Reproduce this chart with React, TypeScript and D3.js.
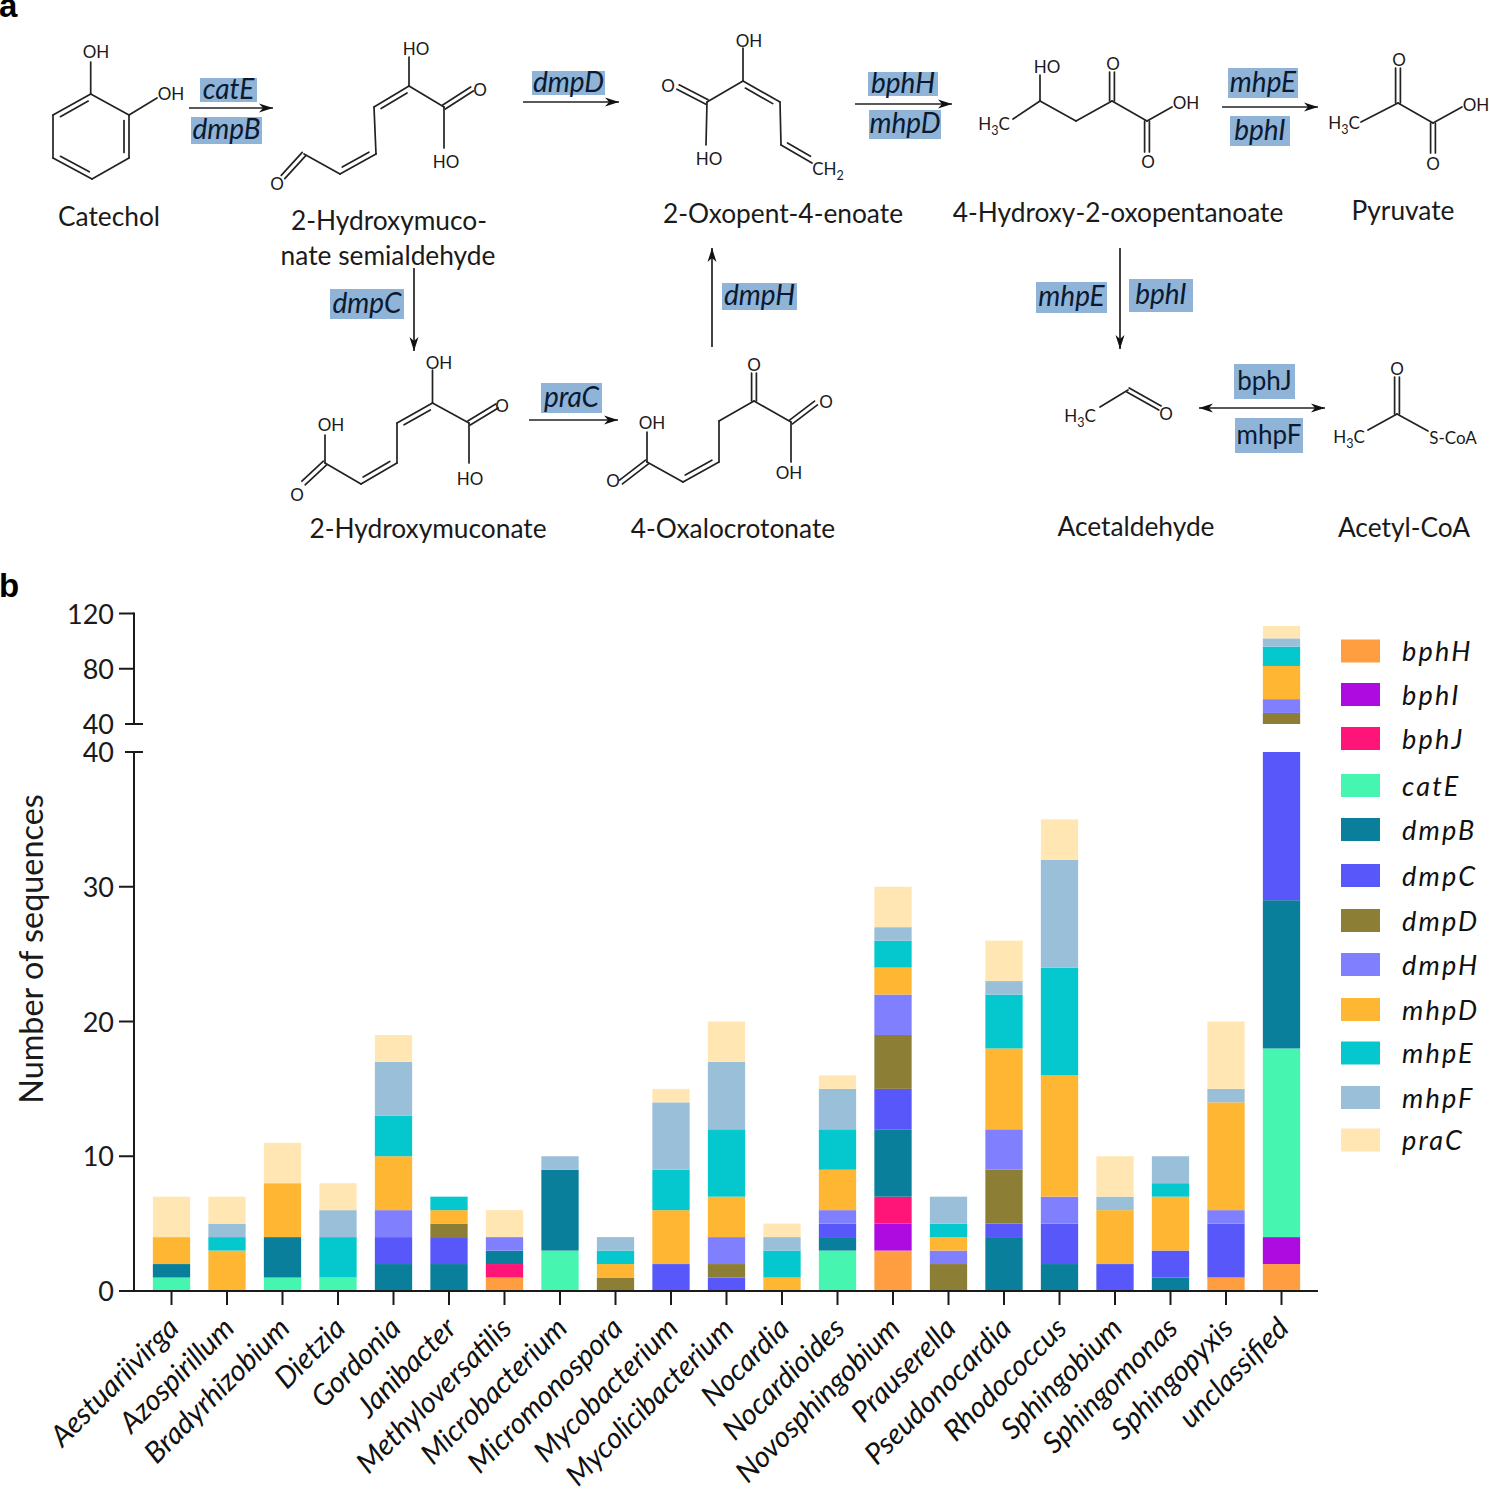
import React from "react";
import * as d3 from "d3";

// ---------- chart data ----------
const genera = ["Aestuariivirga","Azospirillum","Bradyrhizobium","Dietzia","Gordonia","Janibacter","Methyloversatilis","Microbacterium","Micromonospora","Mycobacterium","Mycolicibacterium","Nocardia","Nocardioides","Novosphingobium","Prauserella","Pseudonocardia","Rhodococcus","Sphingobium","Sphingomonas","Sphingopyxis","unclassified"];
const genes = ["bphH","bphI","bphJ","catE","dmpB","dmpC","dmpD","dmpH","mhpD","mhpE","mhpF","praC"];
const geneColors = ["#FF9E40","#AD0BE0","#FF1478","#45F5B0","#0A7F9C","#5858FA","#8C7E35","#8080FF","#FFB733","#05C8CF","#9ABFD9","#FFE6B3"];
const bphH = [0,0,0,0,0,0,1,0,0,0,0,0,0,3,0,0,0,0,0,1,2];
const bphI = [0,0,0,0,0,0,0,0,0,0,0,0,0,2,0,0,0,0,0,0,2];
const bphJ = [0,0,0,0,0,0,1,0,0,0,0,0,0,2,0,0,0,0,0,0,0];
const catE = [1,0,1,1,0,0,0,3,0,0,0,0,3,0,0,0,0,0,0,0,14];
const dmpB = [1,0,3,0,2,2,1,6,0,0,0,0,1,5,0,4,2,0,1,0,11];
const dmpC = [0,0,0,0,2,2,0,0,0,2,1,0,1,3,0,1,3,2,2,4,11];
const dmpD = [0,0,0,0,0,1,0,0,1,0,1,0,0,4,2,4,0,0,0,0,8];
const dmpH = [0,0,0,0,2,0,1,0,0,0,2,0,1,3,1,3,2,0,0,1,10];
const mhpD = [2,3,4,0,4,1,0,0,1,4,3,1,3,2,1,6,9,4,4,8,24];
const mhpE = [0,1,0,3,3,1,0,0,1,3,5,2,3,2,1,4,8,0,1,0,14];
const mhpF = [0,1,0,2,4,0,0,1,1,5,5,1,3,1,2,1,8,1,2,1,6];
const praC = [3,2,3,2,2,0,2,0,0,1,3,1,1,3,0,3,3,3,0,5,9];
const geneValues = [bphH,bphI,bphJ,catE,dmpB,dmpC,dmpD,dmpH,mhpD,mhpE,mhpF,praC];
const lowerTicks = [0,10,20,30,40];
const upperTicks = [40,80,120];
const legendCenters = [651,694.5,738.5,785.5,829.5,875.5,920.5,964.5,1009.5,1053,1097.5,1140];

// ---------- pathway content ----------
type Bond = [number,number,number,number,number?];
const bonds: Bond[] = [
  // catechol
  [90.7,94,129,115],[129,115,129,158,-1],[129,158,92,179],[92,179,53,158,-1],[53,158,53,115],[53,115,90.7,94,-1],[90.7,94,90.7,62],[129,115,157,98],
  // 2-hydroxymuconate semialdehyde
  [409,86,409,57],[409,86,444,107],[444,107,472,89,2],[444,107,444,148],[409,86,374,107,1],[374,107,376,154],[376,154,340,174,-1],[340,174,304,154],[304,154,283,177,2],
  // 2-oxopent-4-enoate
  [743,81,743,48],[743,81,707,102],[707,102,678,87,2],[707,102,706,145],[743,81,780,102,-1],[780,102,781,145],[781,145,812,163,1],
  // 4-hydroxy-2-oxopentanoate
  [1013,119,1040,101],[1040,101,1040,75],[1040,101,1076,121],[1076,121,1112,101],[1112,101,1112,72,2],[1112,101,1147,121],[1147,121,1172,107],[1147,121,1147,152,2],
  // pyruvate
  [1361,122,1398,103],[1398,103,1398,68,2],[1398,103,1433,123],[1433,123,1462,107],[1433,123,1433,153,2],
  // 2-hydroxymuconate
  [432.5,403,432.5,370],[432.5,403,469,423],[469,423,497,406,2],[469,423,469,463],[432.5,403,397,423,1],[397,423,397,463],[397,463,361,484,-1],[361,484,325,463],[325,463,325,435],[325,463,303.5,483,2],
  // 4-oxalocrotonate
  [754,401,754,373,2],[754,401,719,421],[754,401,791,422],[791,422,816,403,2],[791,422,791,462],[719,421,719,462],[719,462,683,482,-1],[683,482,647,462],[647,462,647,432],[647,462,621,482,2],
  // acetaldehyde
  [1100,407,1128,390],[1128,390,1160,408,2],
  // acetyl-CoA
  [1397,414,1397,377,2],[1397,414,1368,430],[1397,414,1428,431],
];
const atoms: [string,number,number][] = [
  ["OH",96,51],["OH",171,93],["HO",416,48],["O",480,89],["HO",446,161],["O",277,183],
  ["OH",749,40],["O",668,85],["HO",709,158],
  ["HO",1047,66],["O",1113,63],["OH",1186,102],["O",1148,161],
  ["O",1399,59],["OH",1476,104],["O",1433,163],
  ["OH",439,362],["O",502,405],["HO",470,478],["OH",331,424],["O",297,494],
  ["O",754,364],["O",826,401],["OH",789,472],["OH",652,422],["O",613,480],
  ["O",1166,413],["O",1397,368],["S-CoA",1453,437],
];
const methyls: [number,number][] = [[994,124],[1344,123],[1080,416],[1349,437]];
const compounds: [string,number,number][] = [
  ["Catechol",109,217],["2-Hydroxymuco-",389,221],["nate semialdehyde",388,256],["2-Oxopent-4-enoate",783,214],
  ["4-Hydroxy-2-oxopentanoate",1118,213],["Pyruvate",1403,211],["2-Hydroxymuconate",428,529],["4-Oxalocrotonate",733,529],
  ["Acetaldehyde",1136,527],["Acetyl-CoA",1404,528],
];
const arrows: [number,number,number,number,boolean?][] = [
  [189,108,273,108],[523,102,619,102],[855,104,952,104],[1222,107,1318,107],[414,268,414,351],[712,347,712,248],[1120,248,1120,349],[529,420,618,420],[1199,408,1325,408,true],
];
const enzymes: [string,number,number,number,number,boolean][] = [
  ["catE",200,78,257,102,true],["dmpB",191,117,262,144,true],["dmpD",532,71,605,95,true],["bphH",868,72,938,96,true],["mhpD",869,110,941,139,true],
  ["mhpE",1228,68,1298,98,true],["bphI",1230,116,1290,146,true],["dmpC",330,289,404,319,true],["dmpH",722,283,797,310,true],["praC",541,383,602,413,true],
  ["mhpE",1036,282,1107,313,true],["bphI",1129,279,1193,312,true],["bphJ",1234,364,1295,399,false],["mhpF",1235,418,1303,453,false],
];

const FONT = "Lato, 'Noto Sans', sans-serif";
const INK = "#1a1a1a";

function BondMark({ b }: { b: Bond }) {
  const [x1,y1,x2,y2,side] = b;
  const dx = x2-x1, dy = y2-y1, len = Math.hypot(dx,dy);
  const nx = -dy/len, ny = dx/len;
  const common = { stroke: "#222", strokeWidth: 1.7, strokeLinecap: "round" as const };
  if (side === 2) {
    const o = 2.4;
    return <g {...common}>
      <line x1={x1+nx*o} y1={y1+ny*o} x2={x2+nx*o} y2={y2+ny*o}/>
      <line x1={x1-nx*o} y1={y1-ny*o} x2={x2-nx*o} y2={y2-ny*o}/>
    </g>;
  }
  const lines = [<line key="m" x1={x1} y1={y1} x2={x2} y2={y2}/>];
  if (side) {
    const o = -5*side, s = 0.13;
    lines.push(<line key="d" x1={x1+dx*s+nx*o} y1={y1+dy*s+ny*o} x2={x2-dx*s+nx*o} y2={y2-dy*s+ny*o}/>);
  }
  return <g {...common}>{lines}</g>;
}

function ArrowMark({ a }: { a: [number,number,number,number,boolean?] }) {
  const [x1,y1,x2,y2,both] = a;
  const ang = Math.atan2(y2-y1,x2-x1);
  const head = (x: number, y: number, t: number) => {
    const l = 14, w = 4.5;
    const bx = x-Math.cos(t)*l, by = y-Math.sin(t)*l;
    const pts: [number,number][] = [[x,y],[bx-Math.sin(t)*w,by+Math.cos(t)*w],[bx+Math.cos(t)*4,by+Math.sin(t)*4],[bx+Math.sin(t)*w,by-Math.cos(t)*w]];
    return <path d={d3.line()(pts)+"Z"} fill="#111"/>;
  };
  return <g>
    <line x1={x1} y1={y1} x2={x2} y2={y2} stroke="#222" strokeWidth={1.7}/>
    {head(x2,y2,ang)}
    {both ? head(x1,y1,ang+Math.PI) : null}
  </g>;
}

export default function App() {
  const x = d3.scaleBand<string>().domain(genera).range([143.75,1309.25]).paddingInner(0.328).paddingOuter(0.164);
  const yLow = d3.scaleLinear().domain([0,40]).range([1291,752]);
  const yHigh = d3.scaleLinear().domain([40,120]).range([724,613.5]);
  const yTop = (v: number) => v <= 40 ? yLow(v) : yHigh(v);
  const yBottom = (v: number) => v < 40 ? yLow(v) : yHigh(v);
  const table = genera.map((g,i) => {
    const row: Record<string,any> = { genus: g };
    genes.forEach((s,j) => { row[s] = geneValues[j][i]; });
    return row;
  });
  const stacked = d3.stack<any>().keys(genes)(table);
  const color = d3.scaleOrdinal<string,string>().domain(genes).range(geneColors);

  return (
    <svg width={1489} height={1492} viewBox="0 0 1489 1492" style={{ position:"absolute", left:0, top:0, background:"#fff" }} fontFamily={FONT}>
      {/* panel letters */}
      <text x={-1} y={17} fontSize={33} fontWeight={700} fontFamily="'Liberation Sans'" fill="#000">a</text>
      <text x={-1} y={597} fontSize={33} fontWeight={700} fontFamily="'Liberation Sans'" fill="#000">b</text>

      {/* pathway */}
      {enzymes.map(([t,a,b,c,d,it],i) => (
        <g key={i}>
          <rect x={a} y={b} width={c-a} height={d-b} fill="#8FB4D8"/>
          <text x={(a+c)/2} y={(b+d)/2+8.5} textAnchor="middle" fontSize={it?28:26} fontStyle={it?"italic":"normal"} fill="#0b1a30">{t}</text>
        </g>
      ))}
      {bonds.map((b,i) => <BondMark key={i} b={b}/>)}
      {arrows.map((a,i) => <ArrowMark key={i} a={a}/>)}
      {atoms.map(([t,a,b],i) => <text key={i} x={a} y={b+6.5} textAnchor="middle" fontSize={17} fill={INK}>{t}</text>)}
      {methyls.map(([a,b],i) => (
        <text key={i} x={a} y={b+6} textAnchor="middle" fontSize={17} fill={INK}>H<tspan dy={5} fontSize={12.5}>3</tspan><tspan dy={-5}>C</tspan></text>
      ))}
      <text x={828} y={175} textAnchor="middle" fontSize={17} fill={INK}>CH<tspan dy={5} fontSize={12.5}>2</tspan></text>
      {compounds.map(([t,a,b],i) => <text key={i} x={a} y={b+9} textAnchor="middle" fontSize={26.3} fill={INK}>{t}</text>)}

      {/* stacked bars */}
      {stacked.map(series => (
        <g key={series.key} fill={color(series.key)}>
          {series.filter(d => d[1] > d[0]).map(d => (
            <rect key={d.data.genus} x={x(d.data.genus)} width={x.bandwidth()} y={yTop(d[1])} height={yBottom(d[0])-yTop(d[1])}/>
          ))}
        </g>
      ))}

      {/* axes */}
      <g stroke="#1a1a1a" strokeWidth={2} fill="none">
        <line x1={134} x2={134} y1={yLow(40)} y2={yLow(0)+1}/>
        <line x1={134} x2={134} y1={yHigh(120)-1} y2={yHigh(40)}/>
        <line x1={134} x2={1318} y1={yLow(0)} y2={yLow(0)}/>
        {lowerTicks.map(t => <line key={t} x1={t===40?125:119} x2={t===40?143:134} y1={yLow(t)} y2={yLow(t)}/>)}
        {upperTicks.map(t => <line key={t} x1={t===40?125:119} x2={t===40?143:134} y1={yHigh(t)} y2={yHigh(t)}/>)}
        {genera.map(g => <line key={g} x1={x(g)!+x.bandwidth()/2} x2={x(g)!+x.bandwidth()/2} y1={yLow(0)} y2={yLow(0)+14}/>)}
      </g>
      <g fontSize={27} fill={INK} textAnchor="end">
        {lowerTicks.map(t => <text key={t} x={114} y={yLow(t)+10}>{t}</text>)}
        {upperTicks.map(t => <text key={t} x={114} y={yHigh(t)+10}>{t}</text>)}
      </g>
      <text transform="translate(43,949) rotate(-90)" textAnchor="middle" fontSize={32.4} fill={INK}>Number of sequences</text>
      {genera.map(g => {
        const cx = x(g)!+x.bandwidth()/2;
        return <text key={g} transform={`translate(${cx+9},1330) rotate(-45)`} textAnchor="end" fontSize={29.2} fontStyle="italic" fill="#111">{g}</text>;
      })}

      {/* legend */}
      {genes.map((g,i) => (
        <g key={g}>
          <rect x={1341} y={legendCenters[i]-11.5} width={39} height={23} fill={color(g)}/>
          <text x={1402} y={legendCenters[i]+10} fontSize={27} fontStyle="italic" letterSpacing={2.2} fill="#111">{g}</text>
        </g>
      ))}
    </svg>
  );
}
